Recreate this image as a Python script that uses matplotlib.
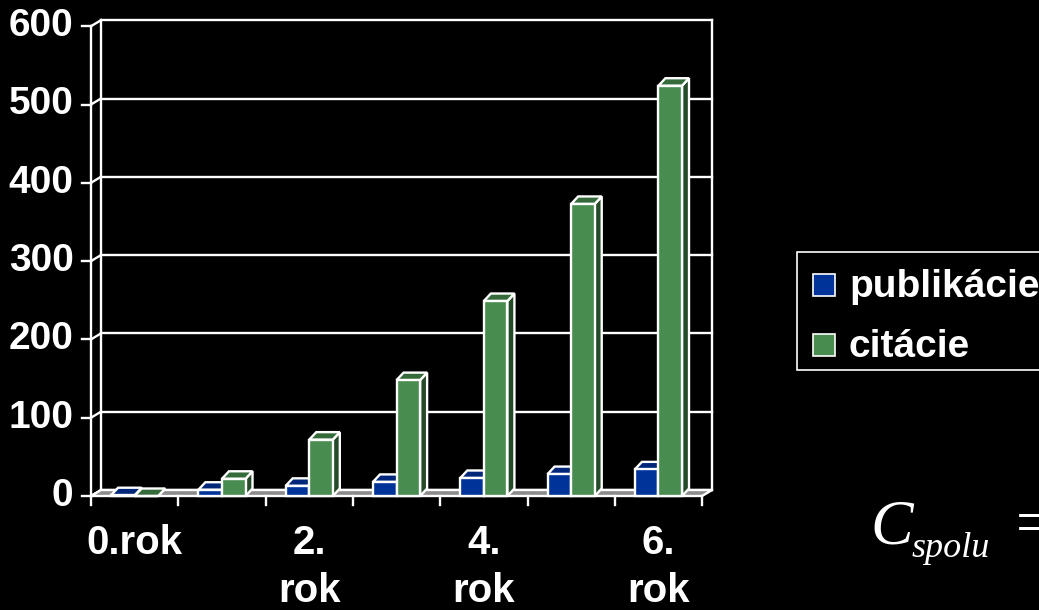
import numpy as np
import matplotlib
matplotlib.use("Agg")
import matplotlib.pyplot as plt
from matplotlib.patches import Polygon, Rectangle

# data
# ----
categories = ['0.rok', '1.rok', '2.\nrok', '3.rok', '4.\nrok', '5.rok', '6.\nrok']
shown_labels = {0: '0.rok', 2: '2.\nrok', 4: '4.\nrok', 6: '6.\nrok'}
publikacie = [1, 8, 13, 18, 23, 28, 34]
citacie = [0, 22, 72, 148, 249, 373, 524]
y_ticks = [0, 100, 200, 300, 400, 500, 600]
series_names = ['publikácie', 'citácie']

# styles
# ------
W, H = 1039, 610
blue = ('#003399', '#00277a', '#001d5c')     # front, top, side
green = ('#488c50', '#356b3a', '#244a28')
floor_c = '#8c8c8c'
lw = 1.7
font = ['Liberation Sans', 'DejaVu Sans']

# pixel mapping of the axes (front plane)
x0_px, cat_px = 91.0, 87.3
y0_px, val_px = 496.0, 0.783

dxw, dyw = 10 / cat_px, 6 / val_px      # wall depth
dxb, dyb = 7 / cat_px, 7.5 / val_px     # bar depth
bar_w = 0.27
n = len(categories)

fig = plt.figure(figsize=(W / 100, H / 100), dpi=100)
fig.patch.set_facecolor('black')
ax = fig.add_axes([0, 0, 1, 1])
ax.set_facecolor('black')
ax.set_xlim(-x0_px / cat_px, (W - x0_px) / cat_px)
ax.set_ylim((y0_px - H) / val_px, y0_px / val_px)
ax.axis('off')


def line(xs, ys, **kw):
    ax.plot(xs, ys, color='white', lw=lw, solid_capstyle='projecting', **kw)


# back wall grid
for v in y_ticks:
    line([dxw, n + dxw], [v + dyw, v + dyw])
    line([0, dxw], [v, v + dyw])               # side wall diagonals
    line([-0.1, 0], [v, v])                    # tick marks
line([dxw, dxw], [dyw, y_ticks[-1] + dyw])
line([n + dxw, n + dxw], [dyw, y_ticks[-1] + dyw])
line([0, 0], [0, y_ticks[-1]])

# floor
ax.add_patch(Polygon([(0, 0), (n, 0), (n + dxw, dyw), (dxw, dyw)], closed=True,
                     facecolor=floor_c, edgecolor='white', lw=lw, zorder=2))
for i in range(n + 1):
    line([i, i], [0, -11.5])


def bar3d(x, w, v, cols):
    front, top, side = cols
    ax.add_patch(Polygon([(x + w, 0), (x + w + dxb, dyb), (x + w + dxb, v + dyb), (x + w, v)],
                         closed=True, facecolor=side, edgecolor='white', lw=lw, zorder=3))
    ax.add_patch(Polygon([(x, v), (x + w, v), (x + w + dxb, v + dyb), (x + dxb, v + dyb)],
                         closed=True, facecolor=top, edgecolor='white', lw=lw, zorder=3))
    ax.add_patch(Polygon([(x, 0), (x + w, 0), (x + w, v), (x, v)],
                         closed=True, facecolor=front, edgecolor='white', lw=lw, zorder=3))


for i in range(n):
    bar3d(i + 0.5 - bar_w, bar_w, publikacie[i], blue)
    bar3d(i + 0.5, bar_w, citacie[i], green)

# tick labels
for v in y_ticks:
    ax.text(-0.2, v, str(v), ha='right', va='center', color='white',
            fontsize=28, fontweight='bold', family=font)
for i, lab in shown_labels.items():
    ax.text(i + 0.5, -(524 - y0_px) / val_px, lab, ha='center', va='top', color='white',
            fontsize=29, fontweight='bold', family=font, linespacing=1.32)


def fx(px):
    return px / W


def fy(py):
    return 1 - py / H


# legend
fig.patches.append(Rectangle((fx(797), fy(370)), fx(260), (370 - 252) / H, transform=fig.transFigure,
                             facecolor='black', edgecolor='white', lw=1.2))
for k, (name, cols) in enumerate(zip(series_names, [blue, green])):
    yc = 285 + k * 60
    fig.patches.append(Rectangle((fx(813), fy(yc + 11)), fx(22), 22 / H, transform=fig.transFigure,
                                 facecolor=cols[0], edgecolor='white', lw=1.2))
    fig.text(fx(849), fy(yc + 12), name, ha='left', va='baseline', color='white',
             fontsize=28, fontweight='bold', family=font)

# formula
serif = ['Liberation Serif', 'DejaVu Serif']
fig.text(fx(870), fy(543), 'C', ha='left', va='baseline', color='white',
         fontsize=46, style='italic', family=serif)
fig.text(fx(912), fy(557), 'spolu', ha='left', va='baseline', color='white',
         fontsize=26, style='italic', family=serif)
fig.text(fx(1016), fy(543), '=', ha='left', va='baseline', color='white',
         fontsize=46, family=serif)

fig.savefig('out.png', dpi=100, facecolor='black')
